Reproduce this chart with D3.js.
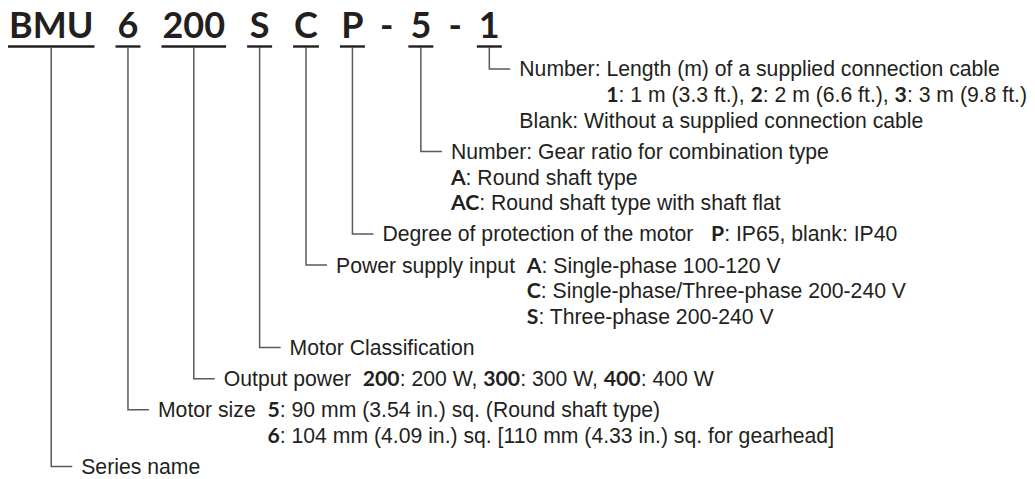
<!DOCTYPE html>
<html>
<head>
<meta charset="utf-8">
<script src="https://cdn.jsdelivr.net/npm/d3@7"></script>
<style>
  body { margin: 0; background: #fff; }
  .code { font-family: Futura, "Century Gothic", Lato, sans-serif; font-weight: 700; font-size: 36px; fill: #231f20; }
  .desc { font-family: "Liberation Sans", Arial, Helvetica, sans-serif; font-size: 21.2px; fill: #231f20; white-space: pre; }
  .desc .key { font-family: Futura, "Century Gothic", Lato, sans-serif; font-weight: 700; }
  .rule { stroke: #231f20; stroke-width: 2.4; }
  .leader { stroke: #5a5a5a; stroke-width: 1.5; fill: none; }
</style>
</head>
<body>
<svg id="chart"></svg>
<script>
// page size
var width = 1035, height = 479;

// model code parts, left to right
var codes = ["BMU", "6", "200", "S", "C", "P", "5", "1"];
// separator printed before codes[i + 1]
var separators = ["", "", "", "", "", "-", "-"];

// description lines for each code part (**...** = bold key, leading \t = tab)
var seriesText = ["Series name"];
var sizeText = ["Motor size  **5**: 90 mm (3.54 in.) sq. (Round shaft type)",
  "**6**: 104 mm (4.09 in.) sq. [110 mm (4.33 in.) sq. for gearhead]"];
var powerText = ["Output power  **200**: 200 W, **300**: 300 W, **400**: 400 W"];
var classText = ["Motor Classification"];
var supplyText = ["Power supply input  **A**: Single-phase 100-120 V",
  "**C**: Single-phase/Three-phase 200-240 V",
  "**S**: Three-phase 200-240 V"];
var protectText = ["Degree of protection of the motor   **P**: IP65, blank: IP40"];
var gearText = ["Number: Gear ratio for combination type",
  "**A**: Round shaft type",
  "**AC**: Round shaft type with shaft flat"];
var cableText = ["Number: Length (m) of a supplied connection cable",
  "\t**1**: 1 m (3.3 ft.), **2**: 2 m (6.6 ft.), **3**: 3 m (9.8 ft.)",
  "Blank: Without a supplied connection cable"];

var descriptions = [seriesText, sizeText, powerText, classText, supplyText, protectText, gearText, cableText];

// layout settings
var left = 8, baseY = 38, ruleY = 46.5;
var codeGap = 21, sepGap = 15, rulePad = 2, minRule = 25;
var topY = 69, lineStep = 25.7, groupGap = 5.4;
var leaderLen = 21, textGap = 9, rightEdge = width - 8;

var svg = d3.select("#chart")
  .attr("width", width)
  .attr("height", height);

var leaders = svg.append("g");
var head = svg.append("g");
var body = svg.append("g");

// lay out code parts one after the other, measuring each one
var codeX = [];
var x = left;
codes.forEach(function(c, i) {
  if (i > 0) {
    var sep = separators[i - 1];
    if (sep) {
      x += sepGap;
      var s = head.append("text").attr("class", "code").attr("x", x).attr("y", baseY).text(sep);
      x += s.node().getComputedTextLength() + sepGap;
    } else {
      x += codeGap;
    }
  }
  var t = head.append("text")
    .attr("class", "code")
    .attr("y", baseY)
    .style("text-anchor", "middle")
    .text(c);
  var w = Math.max(t.node().getComputedTextLength() + rulePad, minRule);
  t.attr("x", x + w / 2);
  head.append("line")
    .attr("class", "rule")
    .attr("x1", x).attr("x2", x + w)
    .attr("y1", ruleY).attr("y2", ruleY);
  codeX.push(x + w / 2);
  x += w;
});

// write one line with bold keys, return the text node
function writeLine(str, tx, ty) {
  var t = body.append("text")
    .attr("class", "desc")
    .attr("x", tx)
    .attr("y", ty)
    .attr("dy", "0.35em");
  str.split("**").forEach(function(part, k) {
    if (!part) return;
    t.append("tspan").attr("class", k % 2 ? "key" : null).text(part);
  });
  return t;
}

// descriptions from the last code part (top) to the first (bottom)
var y = topY;
for (var i = codes.length - 1; i >= 0; i--) {
  var cx = codeX[i];
  var lines = descriptions[i];

  // stem and leader
  leaders.append("path")
    .attr("class", "leader")
    .attr("d", "M" + cx + "," + (ruleY + 1) + "V" + y + "H" + (cx + leaderLen));

  var tx = cx + leaderLen + textGap;
  var keyX = tx;
  lines.forEach(function(str, j) {
    var ly = y + j * lineStep;
    if (j === 0) {
      var t = writeLine(str, tx, ly);
      var first = t.select("tspan");
      if (str.indexOf("**") > 0) keyX = tx + first.node().getComputedTextLength();
    } else if (str.charAt(0) === "\t") {
      var t2 = writeLine(str.slice(1), 0, ly);
      t2.attr("x", rightEdge - t2.node().getComputedTextLength());
    } else {
      writeLine(str, str.indexOf("**") === 0 ? keyX : tx, ly);
    }
  });

  y += (lines.length - 1) * lineStep + lineStep + groupGap;
}
</script>
</body>
</html>
